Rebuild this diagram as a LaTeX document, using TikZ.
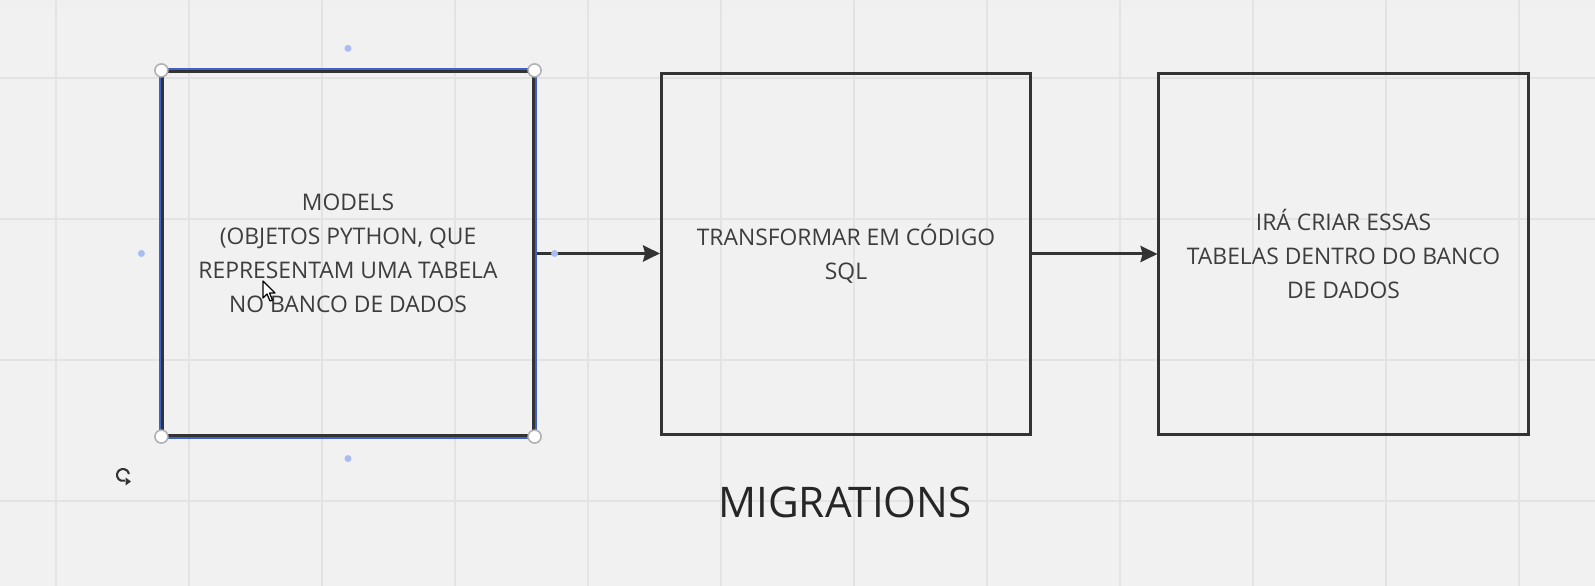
\documentclass[tikz,border=0pt]{standalone}
\usepackage{fontspec}
\setmainfont{Open Sans}
\usetikzlibrary{arrows.meta}
\definecolor{canvas}{HTML}{F1F1F1}
\definecolor{gridline}{HTML}{E3E3E3}
\definecolor{ink}{HTML}{333333}
\definecolor{txt}{HTML}{3D3D3D}
\definecolor{selblue}{HTML}{3F62C8}
\definecolor{dotblue}{HTML}{A9BDF2}
\tikzset{
  box/.style={draw=ink, line width=0.85pt, minimum width=3.69cm, minimum height=3.6cm,
    inner sep=0pt, align=center, text=txt, font=\fontsize{6.5}{9.7}\selectfont},
  conn/.style={draw=ink, line width=0.85pt, -{Stealth[length=4.8pt,width=4.6pt,inset=0.6pt]}},
  handle/.style={circle, draw=gray!60, fill=white, line width=0.45pt, minimum size=3.7pt, inner sep=0pt},
  anchordot/.style={circle, fill=dotblue, minimum size=2pt, inner sep=0pt},
}
\begin{document}
\begin{tikzpicture}[x=0.01cm, y=-0.01cm]
  % board
  \fill[canvas] (0,0) rectangle (1595,586);
  \useasboundingbox (0,0) rectangle (1595,586);
  \shade[top color=black!6, bottom color=canvas] (0,0) rectangle (1595,14);
  \foreach \gx in {56,189,...,1519}
    \draw[gridline, line width=0.35pt] (\gx,0) -- (\gx,586);
  \foreach \gy in {78,219,360,501}
    \draw[gridline, line width=0.35pt] (0,\gy) -- (1595,\gy);

  % steps
  \node[box, minimum width=3.7cm, minimum height=3.63cm] (models) at (348,253.5)
    {MODELS\\(OBJETOS PYTHON, QUE\\REPRESENTAM UMA TABELA\\NO BANCO DE DADOS};
  \node[box] (sql) at (846,254) {TRANSFORMAR EM CÓDIGO\\SQL};
  \node[box] (tables) at (1343.5,254) {IRÁ CRIAR ESSAS\\TABELAS DENTRO DO BANCO\\DE DADOS};

  \draw[conn] (models.east) -- (models.east -| sql.west);
  \draw[conn] (sql.east) -- (tables.west);

  \node[font=\fontsize{12}{14}\selectfont, text=black!85] (title) at (845,502) {MIGRATIONS};

  % selection of the first box
  \draw[selblue, line width=0.45pt] ([shift={(-1.3,-1.3)}]models.north west)
    rectangle ([shift={(1.3,1.3)}]models.south east);
  \foreach \c in {north west,north east,south west,south east}
    \node[handle] at (models.\c) {};
  \node[anchordot] (dn) at ([shift={(0,-22)}]models.north) {};
  \node[anchordot] (ds) at ([shift={(0,22)}]models.south) {};
  \node[anchordot] (dw) at ([shift={(-20,0)}]models.west) {};
  \node[anchordot] (de) at ([shift={(20,0)}]models.east) {};

  % rotate icon and pointer
  \draw[ink, line width=0.6pt] (128.9,474) arc[start angle=-10, end angle=-290, radius=6];
  \fill[ink] (131,481.5) -- (125.5,477.5) -- (125.5,485.5) -- cycle;
  \draw[black, fill=white, line width=0.35pt, line join=round]
    (263,281) -- ++(0,17) -- ++(4,-4) -- ++(3,7) -- ++(2.5,-1) -- ++(-3,-7) -- ++(5.5,0) -- cycle;
\end{tikzpicture}
\end{document}
